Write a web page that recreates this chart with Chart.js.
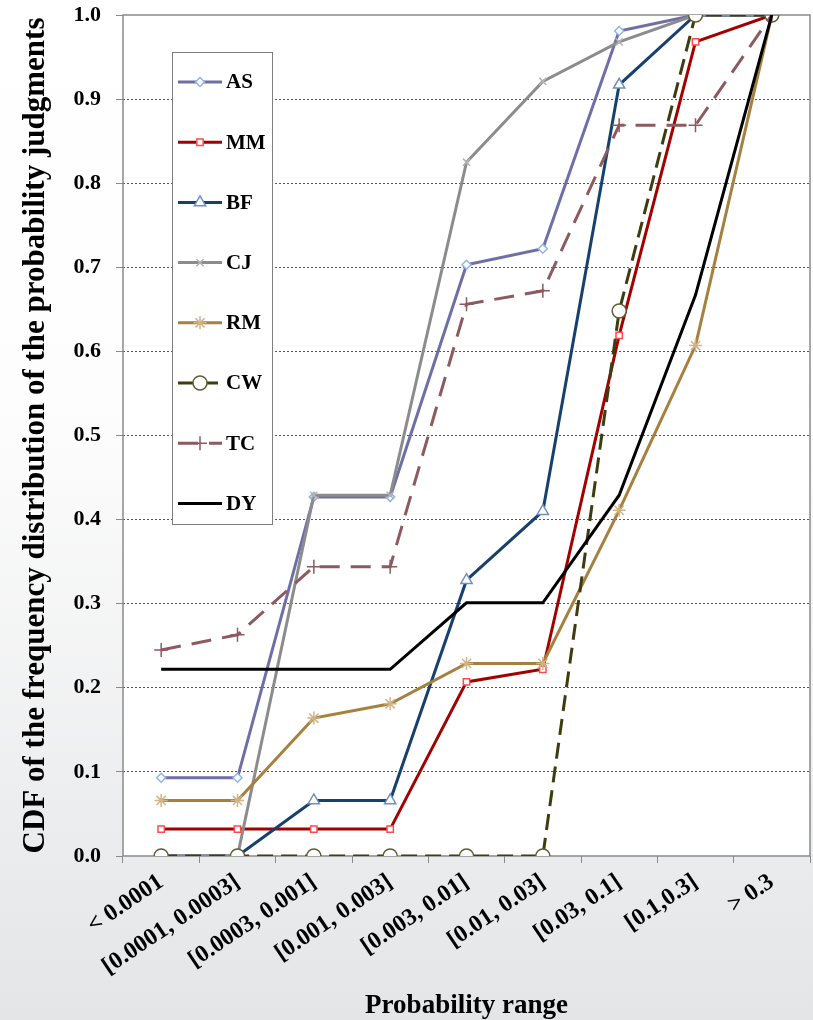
<!DOCTYPE html>
<html>
<head>
<meta charset="utf-8">
<script src="https://cdn.jsdelivr.net/npm/chart.js@4/dist/chart.umd.min.js"></script>
<style>
  html, body { margin: 0; padding: 0; }
  body {
    width: 813px; height: 1020px; overflow: hidden;
    background: linear-gradient(to bottom, #ffffff 0%, #fdfdfd 40%, #e4e5e7 100%);
  }
  #wrap { width: 813px; height: 1020px; }
</style>
</head>
<body>
<div id="wrap"><canvas id="cdfChart" width="813" height="1020"></canvas></div>
<script>
const categories = ["< 0.0001", "[0.0001, 0.0003]", "[0.0003, 0.001]", "[0.001, 0.003]",
  "[0.003, 0.01]", "[0.01, 0.03]", "[0.03, 0.1]", "[0.1,0.3]", "> 0.3"];

const AS = [0.093, 0.093, 0.427, 0.427, 0.703, 0.722, 0.981, 1.0, 1.0];
const MM = [0.032, 0.032, 0.032, 0.032, 0.207, 0.222, 0.619, 0.968, 1.0];
const BF = [0.0, 0.0, 0.066, 0.066, 0.328, 0.41, 0.917, 1.0, 1.0];
const CJ = [0.0, 0.0, 0.429, 0.429, 0.825, 0.921, 0.968, 1.0, 1.0];
const RM = [0.066, 0.066, 0.164, 0.181, 0.229, 0.229, 0.411, 0.607, 1.0];
const CW = [0.0, 0.0, 0.0, 0.0, 0.0, 0.0, 0.648, 1.0, 1.0];
const TC = [0.245, 0.263, 0.344, 0.344, 0.656, 0.672, 0.869, 0.869, 1.0];
const DY = [0.222, 0.222, 0.222, 0.222, 0.301, 0.301, 0.429, 0.667, 1.0];

const serif = "'Liberation Serif', 'Times New Roman', serif";

function series(label, data, color, extra) {
  return Object.assign({
    label: label,
    data: data,
    borderColor: color,
    borderWidth: 3,
    fill: false,
    tension: 0,
    pointBackgroundColor: "#ffffff",
    pointBorderWidth: 1.5,
    pointHoverRadius: 0,
  }, extra);
}

const datasets = [
  series("AS", AS, "#6f6fa8", { pointStyle: "rectRot", pointRadius: 4.5, pointBorderColor: "#8fb6e3" }),
  series("MM", MM, "#a30000", { pointStyle: "rect", pointRadius: 4.5, pointBorderColor: "#ff4a4a" }),
  series("BF", BF, "#17406d", { pointStyle: "triangle", pointRadius: 6.5, pointBorderColor: "#6f8fbf" }),
  series("CJ", CJ, "#8c8c8c", { pointStyle: "crossRot", pointRadius: 5, pointBorderColor: "#b4b4b4" }),
  series("RM", RM, "#a5803f", { pointStyle: "star", pointRadius: 6.5, pointBorderColor: "#d2b386" }),
  series("CW", CW, "#3d3d10", { pointStyle: "circle", pointRadius: 7, pointBorderColor: "#5e5e36", borderDash: [16, 8] }),
  series("TC", TC, "#8c5a5f", { pointStyle: "cross", pointRadius: 7, pointBorderColor: "#8c5a5f", borderDash: [20, 11] }),
  series("DY", DY, "#000000", { pointRadius: 0 }),
];
// later series on top, like the original
datasets.forEach((d, i) => { d.order = datasets.length - i; });

// white plot area + grey frame
const plotFrame = {
  id: "plotFrame",
  beforeDraw(chart) {
    const a = chart.chartArea, ctx = chart.ctx;
    ctx.save();
    ctx.fillStyle = "#ffffff";
    ctx.fillRect(a.left, a.top, a.right - a.left, a.bottom - a.top);
    ctx.restore();
  },
  beforeDatasetsDraw(chart) {
    const a = chart.chartArea, ctx = chart.ctx;
    ctx.save();
    ctx.strokeStyle = "#8a8a8a";
    ctx.lineWidth = 1.5;
    ctx.strokeRect(a.left, a.top, a.right - a.left, a.bottom - a.top);
    ctx.restore();
  },
};

// boxed legend inside the plot, one entry per row
const boxLegend = {
  id: "boxLegend",
  afterDatasetsDraw(chart) {
    const ctx = chart.ctx;
    const x0 = 172, y0 = 52, w = 100, h = 472;
    ctx.save();
    ctx.fillStyle = "#ffffff";
    ctx.fillRect(x0, y0, w, h);
    ctx.strokeStyle = "#7f7f7f";
    ctx.lineWidth = 1;
    ctx.strokeRect(x0 + 0.5, y0 + 0.5, w, h);
    chart.data.datasets.forEach((ds, i) => {
      const y = 82 + i * 60.2;
      ctx.strokeStyle = ds.borderColor;
      ctx.lineWidth = ds.borderWidth;
      ctx.setLineDash(ds.borderDash || []);
      ctx.beginPath();
      ctx.moveTo(178, y);
      ctx.lineTo(222, y);
      ctx.stroke();
      ctx.setLineDash([]);
      if (ds.pointRadius > 0) {
        ctx.fillStyle = ds.pointBackgroundColor;
        ctx.strokeStyle = ds.pointBorderColor;
        ctx.lineWidth = ds.pointBorderWidth;
        Chart.helpers.drawPoint(ctx, {
          pointStyle: ds.pointStyle, radius: ds.pointRadius,
          borderWidth: ds.pointBorderWidth, rotation: 0,
        }, 200, y);
      }
      ctx.fillStyle = "#000000";
      ctx.font = "bold 21px " + serif;
      ctx.textBaseline = "middle";
      ctx.textAlign = "left";
      ctx.fillText(ds.label, 226, y + 1);
    });
    ctx.restore();
  },
};

new Chart(document.getElementById("cdfChart"), {
  type: "line",
  data: { labels: categories, datasets: datasets },
  options: {
    responsive: false,
    animation: false,
    layout: { autoPadding: false, padding: { top: 15, right: 3, left: 0, bottom: 0 } },
    plugins: { legend: { display: false }, tooltip: { enabled: false } },
    scales: {
      x: {
        offset: true,
        grid: { offset: true, drawOnChartArea: false, drawTicks: true, tickLength: 7, color: "#8a8a8a", tickColor: "#8a8a8a" },
        border: { display: false },
        ticks: {
          autoSkip: false, minRotation: 34, maxRotation: 34, padding: 5,
          color: "#000000", font: { family: serif, size: 24, weight: "bold" },
        },
        title: {
          display: true, text: "Probability range", color: "#000000",
          font: { family: serif, size: 27, weight: "bold", lineHeight: 1.0 }, padding: { top: 0, bottom: 0 },
        },
        afterFit(scale) {
          scale.height = 164;
          scale.paddingLeft = 0;
          scale.paddingRight = 0;
        },
      },
      y: {
        min: 0, max: 1,
        grid: {
          color: (c) => (c.tick && (c.tick.value === 0 || c.tick.value === 1)) ? "rgba(0,0,0,0)" : "#555555",
          lineWidth: 1, tickLength: 7, tickColor: "#8a8a8a", tickBorderDash: [],
        },
        border: { display: false, dash: [2, 2] },
        ticks: {
          stepSize: 0.1, padding: 15, color: "#000000",
          font: { family: serif, size: 22, weight: "bold" },
          callback: (v) => Number(v).toFixed(1),
        },
        title: {
          display: true, text: "CDF of the frequency distribution of the probability judgments",
          color: "#000000", font: { family: serif, size: 31, weight: "bold", lineHeight: 1.0 }, padding: { top: 20, bottom: 0 },
        },
        afterFit(scale) {
          scale.width = 123;
          scale.paddingTop = 0;
          scale.paddingBottom = 0;
        },
      },
    },
  },
  plugins: [plotFrame, boxLegend],
});
</script>
</body>
</html>
